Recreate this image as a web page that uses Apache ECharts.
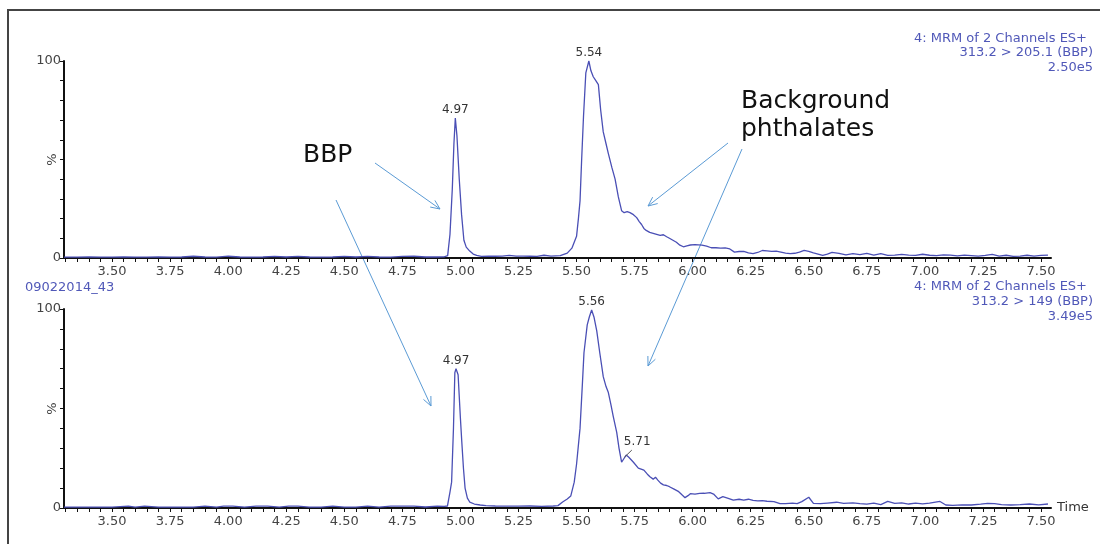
<!DOCTYPE html>
<html>
<head>
<meta charset="utf-8">
<script src="https://cdn.jsdelivr.net/npm/echarts@6/dist/echarts.min.js"></script>
<style>html,body{margin:0;padding:0;background:#fff}#c{width:1100px;height:544px}</style>
</head>
<body>
<div id="c"></div>
<script>
// ---- data ----
const xTickLabels = ['3.50','3.75','4.00','4.25','4.50','4.75','5.00','5.25','5.50','5.75','6.00','6.25','6.50','6.75','7.00','7.25','7.50'];
const topTime = [3.293,3.35,3.40,3.45,3.50,3.55,3.60,3.65,3.70,3.75,3.80,3.85,3.90,3.95,4.00,4.05,4.10,4.15,4.20,4.25,4.30,4.35,4.40,4.45,4.50,4.55,4.60,4.65,4.70,4.75,4.80,4.85,4.90,4.93,4.945,4.955,4.965,4.972,4.978,4.985,4.995,5.005,5.015,5.025,5.04,5.055,5.07,5.09,5.12,5.15,5.18,5.21,5.24,5.27,5.30,5.33,5.36,5.39,5.43,5.46,5.48,5.50,5.508,5.515,5.522,5.53,5.54,5.553,5.562,5.572,5.583,5.594,5.604,5.615,5.627,5.637,5.652,5.666,5.68,5.694,5.705,5.718,5.73,5.745,5.759,5.77,5.78,5.79,5.80,5.815,5.83,5.845,5.86,5.874,5.888,5.90,5.915,5.93,5.945,5.96,5.975,5.99,6.01,6.025,6.04,6.06,6.08,6.10,6.12,6.14,6.16,6.18,6.20,6.22,6.24,6.26,6.28,6.30,6.32,6.34,6.36,6.38,6.40,6.42,6.44,6.46,6.48,6.50,6.52,6.54,6.56,6.58,6.60,6.63,6.66,6.69,6.72,6.75,6.78,6.81,6.84,6.87,6.90,6.93,6.96,6.99,7.02,7.05,7.08,7.11,7.14,7.17,7.20,7.23,7.26,7.29,7.32,7.35,7.38,7.41,7.44,7.47,7.50,7.53];
const topIntensity = [0.4,0.4,0.5,0.4,0.4,0.5,0.4,0.4,0.5,0.4,0.5,0.9,0.5,0.4,0.9,0.5,0.4,0.5,0.8,0.5,0.8,0.5,0.4,0.5,0.8,0.5,0.8,0.5,0.4,0.8,0.9,0.5,0.5,0.6,1.2,12,35,58,71,62,40,22,9,5.5,3.5,2,1.3,0.8,0.9,0.9,1.0,1.3,1.0,1.0,0.9,0.8,1.4,1.0,1.2,2.5,5,11,20,29,50,72,94,100,95,92,90,88,75,64,58,53,46,40,31,24,23,23.5,23,22,20.5,18.5,17,15,14,13,12.5,12,11.5,11.8,10.8,10,9,8,6.5,5.7,6.2,6.6,6.8,6.7,6.5,6.0,5.2,5.2,5.0,5.1,4.6,3.0,3.3,3.4,2.6,2.2,2.8,3.8,3.6,3.4,3.5,3.0,2.5,2.2,2.4,3.0,3.9,3.4,2.6,2.0,1.3,2.0,2.9,2.4,1.6,2.2,1.7,2.4,1.5,2.2,1.3,1.5,1.8,1.5,1.3,1.9,1.4,1.2,1.6,1.5,1.1,1.5,1.2,0.9,1.3,1.8,1.0,1.4,0.8,1.0,1.4,0.9,1.3,1.5];
const bottomTime = [3.293,3.35,3.40,3.45,3.50,3.57,3.60,3.64,3.70,3.75,3.80,3.85,3.90,3.95,3.98,4.02,4.07,4.12,4.17,4.22,4.26,4.30,4.35,4.40,4.45,4.50,4.55,4.60,4.65,4.70,4.75,4.80,4.85,4.90,4.93,4.944,4.955,4.962,4.97,4.976,4.981,4.99,5.00,5.006,5.013,5.02,5.03,5.04,5.06,5.085,5.11,5.15,5.20,5.25,5.30,5.35,5.40,5.42,5.44,5.46,5.475,5.49,5.50,5.515,5.525,5.532,5.546,5.555,5.565,5.575,5.587,5.60,5.615,5.627,5.637,5.648,5.658,5.673,5.683,5.694,5.705,5.714,5.725,5.745,5.766,5.79,5.805,5.816,5.83,5.84,5.85,5.862,5.874,5.888,5.90,5.92,5.94,5.955,5.967,5.98,5.99,6.01,6.03,6.05,6.075,6.09,6.11,6.13,6.15,6.175,6.20,6.22,6.24,6.26,6.28,6.30,6.32,6.35,6.376,6.40,6.43,6.45,6.47,6.50,6.52,6.55,6.58,6.62,6.65,6.69,6.72,6.75,6.78,6.81,6.84,6.87,6.90,6.93,6.96,6.99,7.02,7.065,7.09,7.12,7.16,7.20,7.24,7.27,7.30,7.33,7.37,7.41,7.45,7.49,7.53];
const bottomIntensity = [0.4,0.4,0.4,0.4,0.4,0.9,0.4,0.9,0.4,0.4,0.4,0.4,0.9,0.4,0.9,0.9,0.4,0.9,0.9,0.4,0.9,0.9,0.4,0.4,0.9,0.4,0.4,0.9,0.4,0.9,0.9,0.9,0.5,0.9,0.8,1,8,13,40,68,70,67,45,33,20,10,5,3,2,1.5,1.2,1.0,0.9,0.9,1.0,0.8,1.0,1.2,3,4.5,6,13,22,40,62,78,92,96,99.5,96,89,78,66,61,58,52,46,38,30,23,25,26.6,25.5,23,20,19,17,15.7,14.5,15.5,14,12.5,11.6,11.3,10.7,9.5,8.2,6.5,5.2,6.2,7.2,7.0,7.3,7.4,7.7,7.0,4.6,5.7,5.0,4.0,4.4,4.0,4.4,3.8,3.6,3.7,3.4,3.2,2.2,2.2,2.4,2.2,3.2,5.4,2.3,2.2,2.5,2.9,2.3,2.6,2.2,1.9,2.5,1.7,3.3,2.3,2.6,2.0,2.4,2.1,2.4,3.3,1.5,1.3,1.6,1.5,1.9,2.3,2.2,1.7,1.5,1.7,2.0,1.6,2.0];
const topPeaks = [[4.978,71,'4.97'],[5.553,100,'5.54']];
const bottomPeaks = [[4.981,70,'4.97'],[5.565,99.5,'5.56']];
const bottomShoulder = {from:[5.706,25.5], to:[5.738,29.1], labelAt:[5.761,29.1], text:'5.71'};
const topInfo = ['4: MRM of 2 Channels ES+','313.2 > 205.1 (BBP)','2.50e5'];
const bottomInfo = ['4: MRM of 2 Channels ES+','313.2 > 149 (BBP)','3.49e5'];
const sampleName = '09022014_43';
const yAxisTitle = '%';

// ---- chart ----
const FONT = 'DejaVu Sans';
const LINE = '#4a4fb5';
const INFO = '#5058b8';
const ARROW = '#5b9bd5';
const minorTicks = [];
for (let i = 66; i <= 150; i++) minorTicks.push(+(i * 0.05).toFixed(2));
const labelVals = xTickLabels.map(parseFloat);

function xAxis(gridIndex, withName) {
  return {
    type: 'value', gridIndex, min: 3.293, max: 7.543,
    name: withName ? 'Time' : '', nameLocation: 'end', nameGap: 6,
    nameTextStyle: {fontFamily: FONT, fontSize: 13, color: '#333'},
    axisLine: {onZero: false, lineStyle: {color: '#111', width: 2}},
    axisTick: {show: true, length: 4, customValues: minorTicks, lineStyle: {color: '#111', width: 1}},
    axisLabel: {customValues: labelVals, margin: 7, fontFamily: FONT, fontSize: 13, color: '#444',
      formatter: v => v.toFixed(2)},
    splitLine: {show: false}
  };
}
function yAxis(gridIndex) {
  return {
    type: 'value', gridIndex, min: 0, max: 100, interval: 10,
    axisLine: {show: true, lineStyle: {color: '#111', width: 2}},
    axisTick: {show: true, length: 4, lineStyle: {color: '#111', width: 1}},
    axisLabel: {margin: 3, fontFamily: FONT, fontSize: 13, color: '#444',
      formatter: v => (v === 0 ? '0' : v === 100 ? '100' : '')},
    splitLine: {show: false}
  };
}
function peakPoints(peaks) {
  return peaks.map(p => ({coord: [p[0], p[1]], value: p[2]}));
}
const peakMark = (peaks) => ({
  symbol: 'circle', symbolSize: 0, silent: true,
  label: {show: true, position: 'top', distance: 2, formatter: '{c}', fontFamily: FONT, fontSize: 12, color: '#333'},
  data: peakPoints(peaks)
});

const chart = echarts.init(document.getElementById('c'), null, {renderer: 'canvas'});

function arrow(x1, y1, x2, y2) {
  const ang = Math.atan2(y2 - y1, x2 - x1);
  const L = 10, a = 0.42;
  const p1 = [x2 - L * Math.cos(ang - a), y2 - L * Math.sin(ang - a)];
  const p2 = [x2 - L * Math.cos(ang + a), y2 - L * Math.sin(ang + a)];
  return [
    {type: 'line', shape: {x1, y1, x2, y2}, style: {stroke: ARROW, lineWidth: 1}, silent: true},
    {type: 'polyline', shape: {points: [p1, [x2, y2], p2]}, style: {stroke: ARROW, lineWidth: 1, fill: null}, silent: true}
  ];
}
function infoText(lines, rightXs, ys) {
  return lines.map((t, i) => ({type: 'text', x: rightXs[i], y: ys[i],
    style: {text: t, fill: INFO, font: '13px "' + FONT + '"', align: 'right', verticalAlign: 'middle'}, silent: true}));
}
function yTitle(y) {
  return {type: 'text', x: 53, y, rotation: Math.PI / 2,
    style: {text: yAxisTitle, fill: '#444', font: '13px "' + FONT + '"', align: 'center', verticalAlign: 'middle'}, silent: true};
}

const graphics = [
  {type: 'polyline', shape: {points: [[8, 560], [8, 10], [1110, 10]]}, style: {stroke: '#444', lineWidth: 2, fill: null}, silent: true},
  ...infoText(topInfo, [1087, 1093, 1093], [38.5, 53, 67.5]),
  ...infoText(bottomInfo, [1087, 1093, 1093], [287, 302, 317]),
  yTitle(159.5), yTitle(408.5),
  {type: 'text', x: 25, y: 288, style: {text: sampleName, fill: INFO, font: '13px "' + FONT + '"', align: 'left', verticalAlign: 'middle'}, silent: true},
  {type: 'text', x: 303, y: 155, style: {text: 'BBP', fill: '#111', font: '25px "' + FONT + '"', align: 'left', verticalAlign: 'middle'}, silent: true},
  {type: 'text', x: 741, y: 101, style: {text: 'Background', fill: '#111', font: '25px "' + FONT + '"', align: 'left', verticalAlign: 'middle'}, silent: true},
  {type: 'text', x: 741, y: 129.5, style: {text: 'phthalates', fill: '#111', font: '25px "' + FONT + '"', align: 'left', verticalAlign: 'middle'}, silent: true},
  ...arrow(375, 163, 440, 209),
  ...arrow(336, 200, 431, 406),
  ...arrow(728, 143, 648, 206),
  ...arrow(742, 149, 648, 366)
];

chart.setOption({
  animation: false,
  backgroundColor: '#fff',
  grid: [
    {left: 64, top: 61, width: 987, height: 197, containLabel: false},
    {left: 64, top: 309, width: 987, height: 199, containLabel: false}
  ],
  xAxis: [xAxis(0, false), xAxis(1, true)],
  yAxis: [yAxis(0), yAxis(1)],
  series: [
    {type: 'line', xAxisIndex: 0, yAxisIndex: 0, showSymbol: false, symbol: 'none',
      lineStyle: {color: LINE, width: 1.3}, data: topTime.map((t, i) => [t, topIntensity[i]]),
      markPoint: peakMark(topPeaks)},
    {type: 'line', xAxisIndex: 1, yAxisIndex: 1, showSymbol: false, symbol: 'none',
      lineStyle: {color: LINE, width: 1.3}, data: bottomTime.map((t, i) => [t, bottomIntensity[i]]),
      markPoint: {
        symbol: 'circle', symbolSize: 0, silent: true,
        label: {show: true, position: 'top', distance: 2, formatter: '{c}', fontFamily: FONT, fontSize: 12, color: '#333'},
        data: peakPoints(bottomPeaks).concat([{coord: bottomShoulder.labelAt, value: bottomShoulder.text}])
      },
      markLine: {symbol: 'none', silent: true, label: {show: false},
        lineStyle: {color: '#555', width: 1, type: 'solid'},
        data: [[{coord: bottomShoulder.from}, {coord: bottomShoulder.to}]]}
    }
  ],
  graphic: graphics
});
</script>
</body>
</html>
